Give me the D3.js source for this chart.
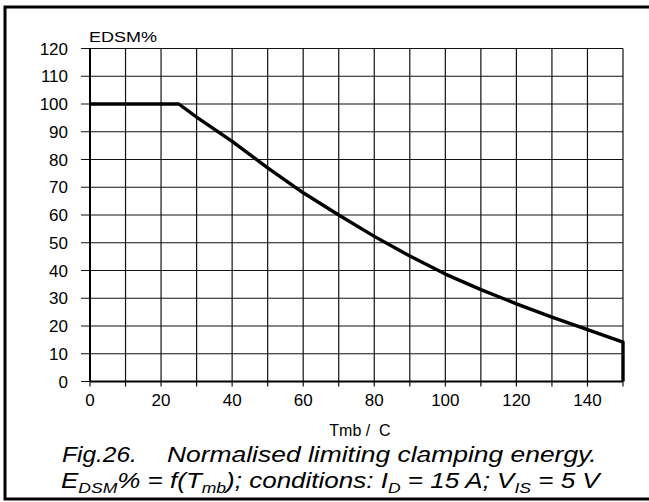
<!DOCTYPE html>
<html>
<head>
<meta charset="utf-8">
<script src="https://cdn.jsdelivr.net/npm/d3@7"></script>
<style>
  body { margin: 0; background: #fff; }
  text { font-family: Arial, "Liberation Sans", sans-serif; fill: #000; }
</style>
</head>
<body>
<script>
//curve: normalised clamping energy vs mounting base temperature
const tempC   = [0, 25, 30, 40, 50, 60, 70, 80, 90, 100, 110, 120, 130, 140, 150, 150];
const edsmPct = [100, 100, 95.3, 86.5, 77, 68, 60, 52.3, 45.2, 38.7, 33.1, 28, 23.2, 18.7, 14.2, 0];

//tick values
const xTicks = [0, 20, 40, 60, 80, 100, 120, 140];
const yTicks = [0, 10, 20, 30, 40, 50, 60, 70, 80, 90, 100, 110, 120];
const xGrid = d3.range(0, 151, 10);

const canvWidth = 649;
const canvHeight = 502;
const plot = {left: 90, right: 623, top: 48.5, bottom: 381.5};

const svg = d3.select("body").append("svg")
  .attr("width", canvWidth)
  .attr("height", canvHeight);

//outer frame (right side runs off the edge)
svg.append("rect")
  .attr("x", 5).attr("y", 7)
  .attr("width", 650).attr("height", 492)
  .attr("fill", "none")
  .attr("stroke", "#000")
  .attr("stroke-width", 3);

//scales
const x = d3.scaleLinear().domain([0, 150]).range([plot.left, plot.right]);
const y = d3.scaleLinear().domain([0, 120]).range([plot.bottom, plot.top]);

//grid
const grid = svg.append("g").attr("id", "grid")
  .attr("stroke", "#111").attr("stroke-width", 1.2);

grid.selectAll("line.v").data(xGrid).enter().append("line")
  .attr("class", "v")
  .attr("x1", d => x(d)).attr("x2", d => x(d))
  .attr("y1", y(120)).attr("y2", y(0) + 5);

grid.selectAll("line.h").data(yTicks).enter().append("line")
  .attr("class", "h")
  .attr("x1", x(0) - 9).attr("x2", x(150))
  .attr("y1", d => y(d)).attr("y2", d => y(d));

//axis lines (heavier)
svg.append("line")
  .attr("x1", x(0)).attr("x2", x(150))
  .attr("y1", y(0)).attr("y2", y(0))
  .attr("stroke", "#000").attr("stroke-width", 2);
svg.append("line")
  .attr("x1", x(0)).attr("x2", x(0))
  .attr("y1", y(0)).attr("y2", y(120))
  .attr("stroke", "#000").attr("stroke-width", 2);

//tick labels
svg.append("g").selectAll("text").data(yTicks).enter().append("text")
  .attr("x", 68)
  .attr("y", d => y(d) + 6)
  .attr("text-anchor", "end")
  .attr("font-size", 17)
  .text(d => d);

svg.append("g").selectAll("text").data(xTicks).enter().append("text")
  .attr("x", d => x(d))
  .attr("y", 406)
  .attr("text-anchor", "middle")
  .attr("font-size", 17)
  .text(d => d);

//stretch a text node horizontally so it spans [x0, x1]
function fitWidth(sel, x0, x1) {
  const w = sel.node().getComputedTextLength();
  const k = (x1 - x0) / w;
  sel.attr("transform", `translate(${x0},0) scale(${k},1) translate(${-x0},0)`);
}

//axis titles
const yTitle = svg.append("text")
  .attr("x", 89).attr("y", 42)
  .attr("font-size", 15)
  .text("EDSM%");
fitWidth(yTitle, 89, 157);

svg.append("text")
  .attr("x", 360).attr("y", 436)
  .attr("text-anchor", "middle")
  .attr("font-size", 16)
  .attr("xml:space", "preserve")
  .text("Tmb /  C");

//data line
const pts = tempC.map((t, i) => [t, edsmPct[i]]);
const line = d3.line().x(d => x(d[0])).y(d => y(d[1]));
svg.append("path")
  .attr("d", line(pts))
  .attr("fill", "none")
  .attr("stroke", "#000")
  .attr("stroke-width", 3.4)
  .attr("stroke-linejoin", "round");

//caption
const cap = svg.append("g").attr("font-style", "italic").attr("font-size", 21.5);
const figNo = cap.append("text").attr("x", 62).attr("y", 462).text("Fig.26.");
fitWidth(figNo, 62, 137);
const figTitle = cap.append("text").attr("x", 167).attr("y", 462)
  .text("Normalised limiting clamping energy.");
fitWidth(figTitle, 167, 597);

const l2 = cap.append("text").attr("x", 61).attr("y", 488);
const sub = (s) => l2.append("tspan").attr("font-size", 14.5).attr("dy", 5).text(s);
const norm = (s) => l2.append("tspan").attr("font-size", 21.5).attr("dy", -5).text(s);
l2.append("tspan").text("E");
sub("DSM");
norm("% = f(T");
sub("mb");
norm("); conditions: I");
sub("D");
norm(" = 15 A; V");
sub("IS");
norm(" = 5 V");
fitWidth(l2, 61, 600);
</script>
</body>
</html>
